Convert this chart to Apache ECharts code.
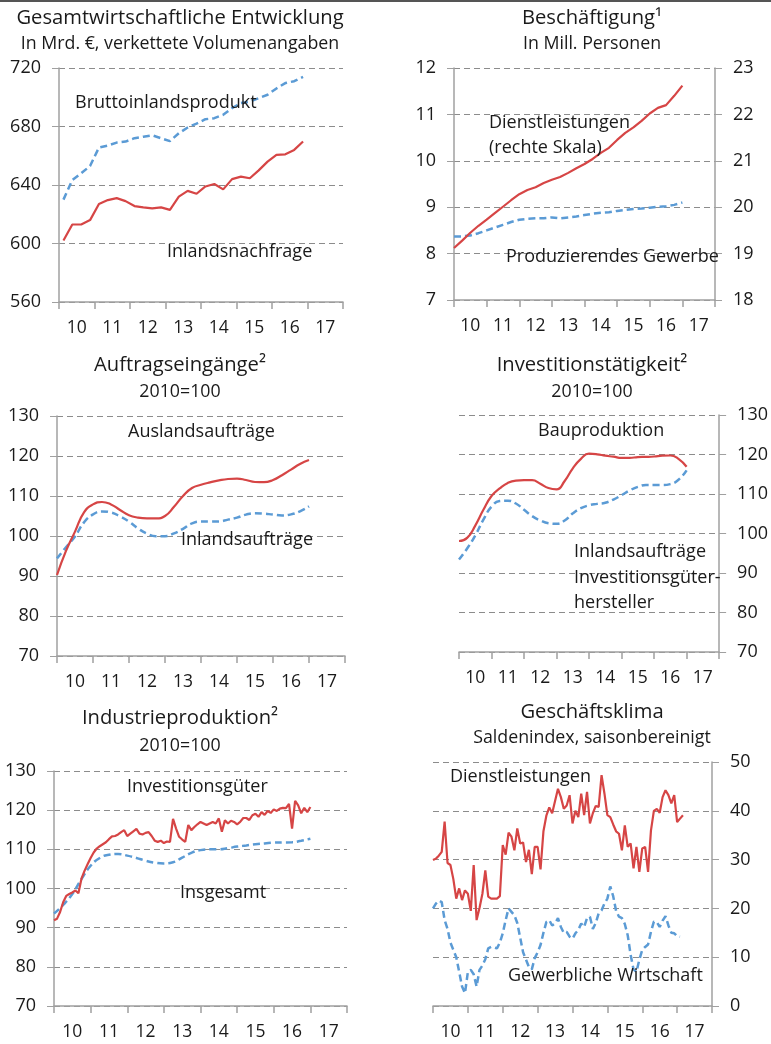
<!DOCTYPE html>
<html>
<head>
<meta charset="utf-8">
<script src="https://cdn.jsdelivr.net/npm/echarts@6/dist/echarts.min.js"></script>
<style>
html, body { margin: 0; padding: 0; background: #fff; }
#chart { width: 771px; height: 1044px; }
</style>
</head>
<body>
<div id="chart"></div>
<script>
// Jahresbeschriftung der x-Achsen
var jahre = ['10', '11', '12', '13', '14', '15', '16', '17'];

// Gesamtwirtschaftliche Entwicklung, Quartale 2010Q1 - 2016Q4
var bip = [630, 643.4, 648, 653, 665.6, 667, 669, 669.7, 672, 673, 674, 672, 670, 675.4,
  679.3, 682, 685, 685.7, 688, 692.6, 696, 697, 699.4, 701.7, 706, 709.7, 711, 714];
var inlandsnachfrage = [602, 613, 613, 616, 627, 629.7, 631, 629, 625.6, 624.7, 624, 624.7, 623, 632,
  636, 634, 639, 640.7, 637, 644, 645.7, 644.6, 650, 656, 660.6, 661, 664, 669.7];

var beschDienst = [19.12, 19.28, 19.45, 19.6, 19.73, 19.87, 20.01, 20.15, 20.28, 20.37, 20.43, 20.52,
  20.59, 20.65, 20.74, 20.84, 20.93, 21.04, 21.17, 21.28, 21.45, 21.6, 21.72, 21.86, 22.02, 22.14, 22.2, 22.4, 22.62];
var beschProd = [8.37, 8.37, 8.39, 8.44, 8.5, 8.56, 8.62, 8.68, 8.73, 8.75, 8.76, 8.76, 8.78, 8.76,
  8.78, 8.8, 8.83, 8.86, 8.88, 8.89, 8.92, 8.94, 8.96, 8.97, 8.99, 9.01, 9.02, 9.05, 9.1];

// Auftragseingänge
var auftrAusland = [90.25, 96.3, 101.1, 105.9, 107.9, 108.5, 107.9, 106.5, 105.2, 104.6, 104.4, 104.4,
  105, 107.3, 110, 112, 112.8, 113.4, 113.9, 114.25, 114.35, 114, 113.5, 113.45, 114, 115.2, 116.6, 118, 119];
var auftrInland = [94.4, 97.2, 99.9, 103.4, 105.4, 106.15, 105.9, 104.9, 103.6, 101.9, 100.6, 99.95,
  99.95, 100.65, 101.8, 103.15, 103.6, 103.6, 103.65, 104.1, 104.6, 105.35, 105.7, 105.6, 105.35, 105.15, 105.4, 106.15, 107.4];

// Investitionstätigkeit
var bauproduktion = [98.1, 98.9, 102, 106, 109.5, 111.4, 112.8, 113.4, 113.5, 113.5, 112.6, 111.5,
  111.15, 113.3, 116.5, 118.9, 120.2, 120.05, 119.7, 119.45, 119.15, 119.15, 119.35, 119.4, 119.5, 119.7, 119.75, 118.9, 116.9];
var investInland = [93.4, 96.2, 99.5, 103.5, 106.8, 108.2, 108.3, 107.6, 106, 104.4, 103.3, 102.6,
  102.45, 103.3, 105.1, 106.4, 107.15, 107.5, 107.8, 108.6, 109.7, 110.9, 111.8, 112.25, 112.25, 112.25, 112.5, 113.6, 116];

// Industrieproduktion, Investitionsgüter monatlich
var ipInvest = [91.9, 92.3, 94, 96.5, 98.1, 98.6, 99, 99.5, 98.8, 102.5,
  104.5, 106.2, 107.8, 109.2, 110.2, 110.8, 111.3, 111.8, 112.6, 113.3,
  113.4, 113.8, 114.4, 114.9, 113.4, 114, 114.6, 115.2, 114, 113.8,
  114.2, 114.4, 113.4, 112.2, 111.9, 112.2, 111.6, 112, 111.9, 117.8,
  115.3, 113.2, 112.5, 111.9, 116.2, 114.9, 115.7, 116.4, 117, 116.6,
  116.2, 116.6, 117, 116.6, 117.9, 114.5, 117.4, 116.6, 117.3, 117,
  116.4, 117, 118, 118, 117.5, 118.7, 119.1, 118.3, 119.5, 118.8,
  119.8, 119.3, 120.2, 119.8, 120.4, 120.6, 120.5, 121.6, 115.3, 122.4,
  121.2, 119.2, 120.6, 119.5, 120.8];
var ipInsgesamt = [93.6, 95.8, 98.6, 102.4, 105.8, 107.8, 108.6, 108.8, 108.4, 107.8, 107.1, 106.6,
  106.4, 106.7, 107.9, 109.1, 109.8, 110, 110, 110.3, 110.7, 111, 111.3, 111.5, 111.7, 111.75, 111.8, 112.2, 112.7];

// Geschäftsklima, monatlich ab Jan 2010
var klimaDienst = [29.9, 30.2, 30.8, 31.6, 37.8, 29.3, 28.9, 26, 22, 24.1,
  21.7, 23.7, 23, 19.5, 28.9, 17.6, 20.1, 23, 27.8, 22.4,
  22, 22, 22, 22.5, 33, 31, 35.5, 34.7, 31.9, 36.4,
  33.3, 33.5, 29.5, 32, 27, 32.6, 32.6, 28, 35.8, 39,
  40.7, 39.5, 42, 44.5, 42.8, 40.4, 41.1, 43.2, 37.4, 40,
  38.7, 43.5, 39.1, 43.9, 37.4, 39.5, 41, 40.8, 47.3, 43.5,
  39.1, 38.7, 37.2, 35.8, 35.3, 31.9, 37, 32.6, 33.3, 28.2,
  32.6, 27.5, 32.3, 32.6, 27.5, 36, 40, 40.4, 39.6, 42.8,
  44.2, 43.2, 41.5, 43.2, 37.7, 38.4, 39.1];
var klimaGewerbe = [20, 21, 21.6, 21.3, 17.6, 15.8, 13, 11.5, 10, 7,
  4, 2.6, 7, 7.4, 6.5, 4, 7.4, 8.3, 9.6, 11.8,
  12.1, 12, 11.8, 13, 14.9, 17.6, 20, 19.3, 18.6, 17,
  14, 11, 9.5, 8, 7.5, 9.8, 11, 12.5, 15, 17.2,
  17.6, 16.5, 16.9, 18, 16.2, 15, 15.2, 14.2, 13.8, 14.9,
  15.6, 16.9, 16.2, 18, 18.3, 15.8, 17, 19, 19.6, 21,
  22, 24.5, 22.5, 19.5, 18.3, 18, 16.8, 14.5, 10.5, 7.5,
  7, 9.5, 11.5, 12.1, 12.6, 15.2, 17.3, 17.2, 16.2, 17.5,
  18.4, 16.5, 15, 14.9, 14.3, 14.2];

var FONT = '"Open Sans", Lato, sans-serif';
var ROT = '#d64545';
var BLAU = '#5b9bd5';
var GRAU = '#a0a0a0';

// Zeitachse: Werte auf Jahresbruchteile legen
function quartalsmitte(arr) { return arr.map(function (v, i) { return [2010 + (i + 0.5) / 4, v]; }); }
function quartal(arr) { return arr.map(function (v, i) { return [2010 + i / 4, v]; }); }
function monat(arr) { return arr.map(function (v, i) { return [2010 + i / 12, v]; }); }

var grids = [
  { left: 59, top: 68, width: 284, height: 234 },
  { left: 454, top: 68, width: 261, height: 232 },
  { left: 57, top: 416, width: 288, height: 240 },
  { left: 459, top: 415, width: 262, height: 237 },
  { left: 54, top: 771, width: 293, height: 235 },
  { left: 433, top: 762, width: 279, height: 244 }
];

var xAxes = [];
grids.forEach(function (g, i) {
  xAxes.push({
    type: 'value', gridIndex: i, min: 2010, max: 2018, interval: 1,
    axisLine: { show: true, lineStyle: { color: GRAU, width: 1.5 } },
    axisTick: { show: true, length: 7, lineStyle: { color: GRAU, width: 1.5 } },
    axisLabel: { show: false },
    splitLine: { show: false }
  });
  xAxes.push({
    type: 'category', gridIndex: i, data: jahre, boundaryGap: true, position: 'bottom',
    axisLine: { show: false }, axisTick: { show: false }, splitLine: { show: false },
    axisLabel: { color: '#1a1a1a', fontSize: 17.5, fontFamily: FONT, margin: 17 }
  });
});

function yAchse(grid, min, max, interval, pos, split) {
  return {
    type: 'value', gridIndex: grid, min: min, max: max, interval: interval, position: pos,
    axisLine: { show: true, lineStyle: { color: GRAU, width: 1.5 } },
    axisTick: { show: true, length: 7, lineStyle: { color: GRAU } },
    axisLabel: { color: '#1a1a1a', fontSize: 18, fontFamily: FONT, margin: 18 },
    splitLine: { show: split, lineStyle: { color: '#8c8c8c', width: 1, type: [6, 4] } }
  };
}

var yAxes = [
  yAchse(0, 560, 720, 40, 'left', true),
  yAchse(1, 7, 12, 1, 'left', true),
  yAchse(1, 18, 23, 1, 'right', false),
  yAchse(2, 70, 130, 10, 'left', true),
  yAchse(3, 70, 130, 10, 'right', true),
  yAchse(4, 70, 130, 10, 'left', true),
  yAchse(5, 0, 50, 10, 'right', true)
];

function rot(x, y, data, smooth) {
  return { type: 'line', xAxisIndex: x, yAxisIndex: y, data: data, symbol: 'none', smooth: smooth,
    lineStyle: { color: ROT, width: 2.2 }, z: 3 };
}
function blau(x, y, data, smooth) {
  return { type: 'line', xAxisIndex: x, yAxisIndex: y, data: data, symbol: 'none', smooth: smooth,
    lineStyle: { color: BLAU, width: 2.5, type: [7, 4] }, z: 2 };
}

var series = [
  blau(0, 0, quartalsmitte(bip), false),
  rot(0, 0, quartalsmitte(inlandsnachfrage), false),
  blau(2, 1, quartal(beschProd), false),
  rot(2, 2, quartal(beschDienst), false),
  blau(4, 3, quartal(auftrInland), true),
  rot(4, 3, quartal(auftrAusland), true),
  blau(6, 4, quartal(investInland), true),
  rot(6, 4, quartal(bauproduktion), true),
  blau(8, 5, quartal(ipInsgesamt), true),
  rot(8, 5, monat(ipInvest), false),
  blau(10, 6, monat(klimaGewerbe), false),
  rot(10, 6, monat(klimaDienst), false)
];

function titel(x, y, text, size) {
  return { type: 'text', x: x, y: y, style: { text: text, fontSize: size, fontFamily: FONT,
    fill: '#1a1a1a', align: 'center', verticalAlign: 'middle' } };
}
function notiz(x, y, text) {
  return { type: 'text', x: x, y: y, z: 10, style: { text: text, fontSize: 18, fontFamily: FONT,
    fill: '#1a1a1a', align: 'left', verticalAlign: 'middle' } };
}

var graphics = [
  { type: 'line', shape: { x1: 0, y1: 1, x2: 771, y2: 1 }, style: { stroke: '#555', lineWidth: 2 } },
  titel(180, 18, 'Gesamtwirtschaftliche Entwicklung', 20.2),
  titel(180, 44, 'In Mrd. €, verkettete Volumenangaben', 17.8),
  titel(592, 18, 'Beschäftigung¹', 20.2),
  titel(592, 44, 'In Mill. Personen', 17.8),
  titel(180, 365, 'Auftragseingänge²', 20.2),
  titel(180, 392, '2010=100', 17.8),
  titel(592, 365, 'Investitionstätigkeit²', 20.2),
  titel(592, 392, '2010=100', 17.8),
  titel(180, 718, 'Industrieproduktion²', 20.2),
  titel(180, 746, '2010=100', 17.8),
  titel(592, 712, 'Geschäftsklima', 20.2),
  titel(592, 738, 'Saldenindex, saisonbereinigt', 17.8),
  notiz(75, 103, 'Bruttoinlandsprodukt'),
  notiz(167, 252, 'Inlandsnachfrage'),
  notiz(489, 123, 'Dienstleistungen'),
  notiz(489, 148, '(rechte Skala)'),
  notiz(506, 257, 'Produzierendes Gewerbe'),
  notiz(128, 432, 'Auslandsaufträge'),
  notiz(181, 540, 'Inlandsaufträge'),
  notiz(538, 431, 'Bauproduktion'),
  notiz(574, 552, 'Inlandsaufträge'),
  notiz(574, 578, 'Investitionsgüter-'),
  notiz(574, 603, 'hersteller'),
  notiz(127, 787, 'Investitionsgüter'),
  notiz(180, 893, 'Insgesamt'),
  notiz(450, 777, 'Dienstleistungen'),
  notiz(508, 976, 'Gewerbliche Wirtschaft')
];

var chart = echarts.init(document.getElementById('chart'));
chart.setOption({
  animation: false,
  backgroundColor: '#fff',
  grid: grids,
  xAxis: xAxes,
  yAxis: yAxes,
  series: series,
  graphic: graphics
});
</script>
</body>
</html>
